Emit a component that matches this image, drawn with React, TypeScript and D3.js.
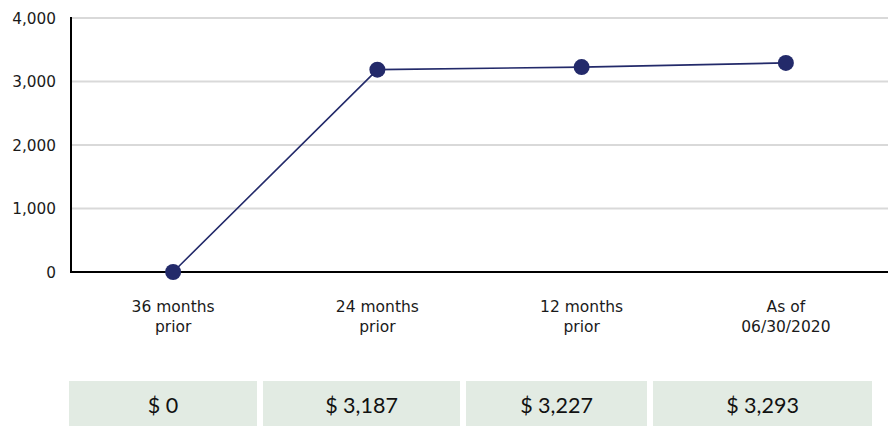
import React from "react";
import * as d3 from "d3";

const categories: string[][] = [["36 months", "prior"], ["24 months", "prior"], ["12 months", "prior"], ["As of", "06/30/2020"]];
const values: number[] = [0, 3187, 3227, 3293];
const yTicks: number[] = [0, 1000, 2000, 3000, 4000];
const boxLabels: string[] = ["$ 0", "$ 3,187", "$ 3,227", "$ 3,293"];

// layout: box edges (left, right) for the summary table cells
const boxEdges: [number, number][] = [[69, 257], [263, 460], [466, 647], [653, 872]];

export default function App() {
  const W = 888, H = 426;
  const left = 71, right = 888, top = 18, bottom = 272;
  const x = d3.scaleBand<number>().domain(values.map((_, i) => i)).range([left, right]);
  const y = d3.scaleLinear().domain([0, 4000]).range([bottom, top]);
  const cx = (i: number) => x(i)! + x.bandwidth() / 2;
  const line = d3.line<number>().x((_, i) => cx(i)).y((d) => y(d));
  const fmt = d3.format(",");
  const font = "Verdana, 'DejaVu Sans', sans-serif";
  return (
    <svg width={W} height={H} style={{ position: "absolute", left: 0, top: 0 }}>
      {yTicks.filter((t) => t > 0).map((t) => (
        <line key={t} x1={left} x2={right} y1={y(t)} y2={y(t)} stroke="#d9d9d9" strokeWidth={2} />
      ))}
      {yTicks.map((t) => (
        <text key={t} x={56} y={y(t)} dy="0.36em" textAnchor="end" fontFamily={font} fontSize={15.3} fill="#1a1a1a">{fmt(t)}</text>
      ))}
      <line x1={left} x2={left} y1={top - 1} y2={bottom + 1} stroke="#000" strokeWidth={2} />
      <line x1={left} x2={right} y1={bottom} y2={bottom} stroke="#000" strokeWidth={2} />
      <path d={line(values)!} fill="none" stroke="#232a6a" strokeWidth={1.6} />
      {values.map((v, i) => (
        <circle key={i} cx={cx(i)} cy={y(v)} r={8} fill="#232a6a" />
      ))}
      {categories.map((c, i) => (
        <text key={i} x={cx(i)} y={312} textAnchor="middle" fontFamily={font} fontSize={15.5} fill="#1a1a1a">
          {c.map((s, j) => (
            <tspan key={j} x={cx(i)} dy={j === 0 ? 0 : 20}>{s}</tspan>
          ))}
        </text>
      ))}
      {boxLabels.map((b, i) => (
        <g key={i}>
          <rect x={boxEdges[i][0]} y={381} width={boxEdges[i][1] - boxEdges[i][0]} height={45} fill="#e2ebe3" />
          <text x={(boxEdges[i][0] + boxEdges[i][1]) / 2} y={413} textAnchor="middle" fontFamily="Lato, 'Open Sans', sans-serif" fontSize={21.5} fill="#111">{b}</text>
        </g>
      ))}
    </svg>
  );
}
